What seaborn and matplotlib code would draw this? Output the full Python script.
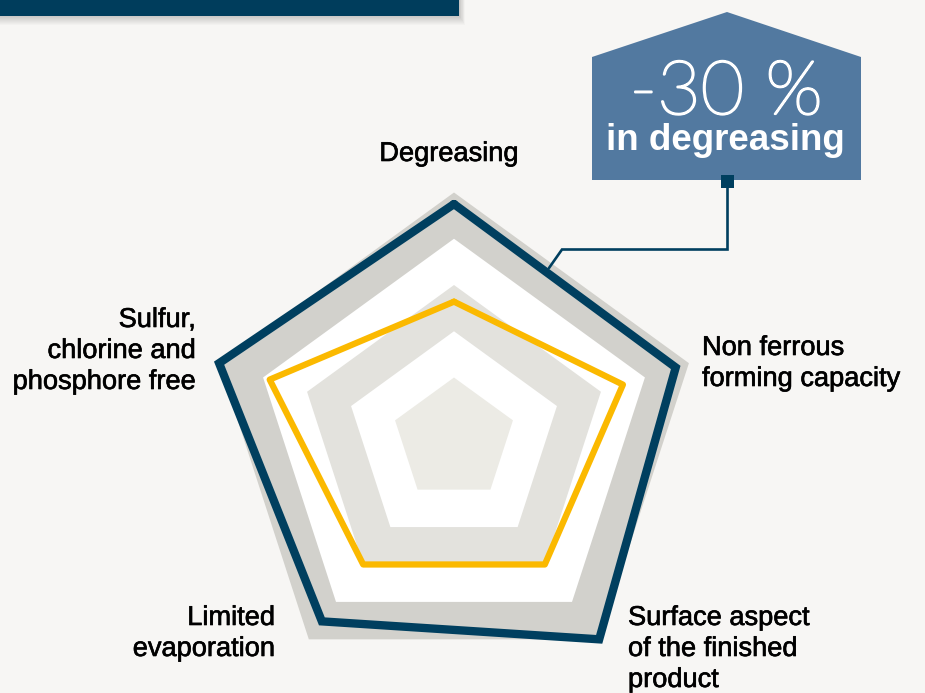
import numpy as np
import pandas as pd
import seaborn as sns
import matplotlib.pyplot as plt
import matplotlib.patheffects as pe
from matplotlib.patches import Polygon, Rectangle

# Radar data (level scale 1..5, rings at integer levels)
axes_labels = ["Degreasing",
               "Non ferrous\nforming capacity",
               "Surface aspect\nof the finished\nproduct",
               "Limited\nevaporation",
               "Sulfur,\nchlorine and\nphosphore free"]
blue_values = [4.75, 4.70, 5.00, 4.52, 5.00]
yellow_values = [2.64, 3.50, 3.00, 3.00, 3.85]
ring_levels = [5, 4, 3, 2, 1]
ring_colors = ["#d2d1cc", "#ffffff", "#e3e2dd", "#ffffff", "#ecebe5"]

callout_big = "-30 %"
callout_small = "in degreasing"

BG = "#f7f6f4"
NAVY = "#003f5f"
YELLOW = "#fbb900"
BOX = "#5279a0"

sns.set_theme(style="white")
plt.rcParams["font.family"] = ["Liberation Sans", "DejaVu Sans"]

W, H = 925, 693
fig = plt.figure(figsize=(W / 100, H / 100), dpi=100, facecolor=BG)

# polar axes placed so the level-5 ring has a radius of 247 px
cx, cy = 454, 439.5
r_px = 247
r_min, r_max = -0.34, 5.0
ax = fig.add_axes([(cx - r_px) / W, (H - cy - r_px) / H, 2 * r_px / W, 2 * r_px / H],
                  projection="polar")
ax.set_theta_zero_location("N")
ax.set_theta_direction(-1)
ax.set_ylim(r_min, r_max)
ax.set_axis_off()

n = len(axes_labels)
theta = np.linspace(0, 2 * np.pi, n, endpoint=False)
closed = np.append(theta, theta[0])

for lvl, col in zip(ring_levels, ring_colors):
    ax.fill(closed, [lvl] * (n + 1), color=col, lw=0, zorder=1, clip_on=False)

df_blue = pd.DataFrame({"theta": closed, "value": blue_values + blue_values[:1]})
df_yel = pd.DataFrame({"theta": closed, "value": yellow_values + yellow_values[:1]})

sns.lineplot(data=df_yel, x="theta", y="value", sort=False, estimator=None, ax=ax,
             color=YELLOW, lw=4.5, solid_joinstyle="round", solid_capstyle="round",
             clip_on=False, zorder=3)
sns.lineplot(data=df_blue, x="theta", y="value", sort=False, estimator=None, ax=ax,
             color=NAVY, lw=6, solid_joinstyle="miter", clip_on=False, zorder=4)
ax.set_axis_off()

# overlay in pixel coordinates for decorations and labels
ov = fig.add_axes([0, 0, 1, 1], facecolor="none")
ov.set_xlim(0, W)
ov.set_ylim(H, 0)
ov.set_axis_off()

# header bar with soft shadow
for k in range(1, 11):
    ov.add_patch(Rectangle((0, 0), 459 + k * 0.6, 15 + k, color="black", alpha=0.018, lw=0))
ov.add_patch(Rectangle((0, 0), 459, 15.5, color="#003d5c", lw=0))

# callout box
ov.add_patch(Polygon([(592, 180), (592, 57), (727, 12), (861, 57), (861, 180)],
                     closed=True, color=BOX, lw=0))
ov.plot([727.5, 727.5, 562, 549], [186, 249.5, 249.5, 268], color=NAVY, lw=1.9,
        solid_joinstyle="miter")
ov.add_patch(Rectangle((721, 175), 13, 13, color=NAVY, lw=0))
ov.text(726, 114, callout_big, color="white", fontsize=54, ha="center", va="baseline",
        family=["Lato", "DejaVu Sans"], fontweight="light",
        path_effects=[pe.withStroke(linewidth=1.6, foreground="white")])
ov.text(725, 150, callout_small, color="white", fontsize=26.5, ha="center", va="baseline",
        fontweight="bold")

# axis labels: (x, first baseline, alignment)
label_pos = [(449, 161, "center"), (702, 355, "left"), (628, 625, "left"),
             (275, 625, "right"), (196, 327, "right")]
line_step = 31
for text, (x, y0, ha) in zip(axes_labels, label_pos):
    for i, line in enumerate(text.split("\n")):
        ov.text(x, y0 + i * line_step, line, fontsize=19.6, ha=ha, va="baseline",
                color="black",
                path_effects=[pe.withStroke(linewidth=0.45, foreground="black")])

fig.savefig("out.png", dpi=100, facecolor=BG)
